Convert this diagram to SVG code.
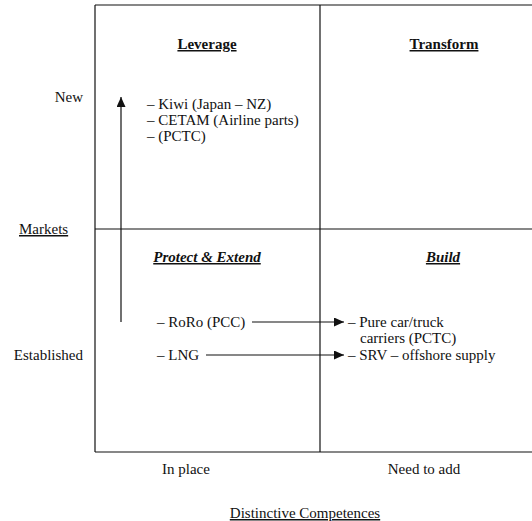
<svg xmlns="http://www.w3.org/2000/svg" width="532" height="521" viewBox="0 0 532 521">
<style>
text{font-family:"Liberation Serif","Times New Roman",serif;font-size:15px;fill:#111}
.h{font-weight:bold;text-decoration:underline}
.i{font-style:italic}
.u{text-decoration:underline}
.m{text-anchor:middle}
.e{text-anchor:end}
.grid line{stroke:#111;stroke-width:1.2}
.conn line{stroke:#111;stroke-width:1.2}
</style>
<defs>
<marker id="ah" viewBox="0 0 10 10" refX="10" refY="5" markerWidth="10" markerHeight="9" markerUnits="userSpaceOnUse" orient="auto" preserveAspectRatio="none">
<path d="M0,0 L10,5 L0,10 z" fill="#111"/>
</marker>
</defs>
<rect width="532" height="521" fill="#fff"/>
<g id="grid" class="grid">
<line x1="95" y1="5" x2="532" y2="5"/>
<line x1="95" y1="229" x2="532" y2="229"/>
<line x1="95" y1="452" x2="532" y2="452"/>
<line x1="95" y1="5" x2="95" y2="452"/>
<line x1="320" y1="5" x2="320" y2="452"/>
</g>
<g id="axis-labels">
<text class="e" x="83" y="102">New</text>
<text class="u" x="19" y="234">Markets</text>
<text class="e" x="83" y="360">Established</text>
<text class="m" x="186" y="474">In place</text>
<text class="m" x="424" y="474">Need to add</text>
<text class="m u" x="305" y="518">Distinctive Competences</text>
</g>
<g id="leverage">
<text class="h m" x="207" y="49">Leverage</text>
<text x="147" y="109">– Kiwi (Japan – NZ)</text>
<text x="147" y="125">– CETAM (Airline parts)</text>
<text x="147" y="141">– (PCTC)</text>
</g>
<g id="transform">
<text class="h m" x="444" y="49">Transform</text>
</g>
<g id="protect-extend">
<text class="h i m" x="207" y="262">Protect &amp; Extend</text>
<text x="157" y="327">– RoRo (PCC)</text>
<text x="157" y="360">– LNG</text>
</g>
<g id="build">
<text class="h i m" x="443" y="262">Build</text>
<text x="348" y="327">– Pure car/truck</text>
<text x="360" y="343">carriers (PCTC)</text>
<text x="348" y="360">– SRV – offshore supply</text>
</g>
<g id="connectors" class="conn">
<line x1="121" y1="322" x2="121" y2="97" marker-end="url(#ah)"/>
<line x1="252" y1="322" x2="344" y2="322" marker-end="url(#ah)"/>
<line x1="206" y1="355" x2="344" y2="355" marker-end="url(#ah)"/>
</g>
</svg>
